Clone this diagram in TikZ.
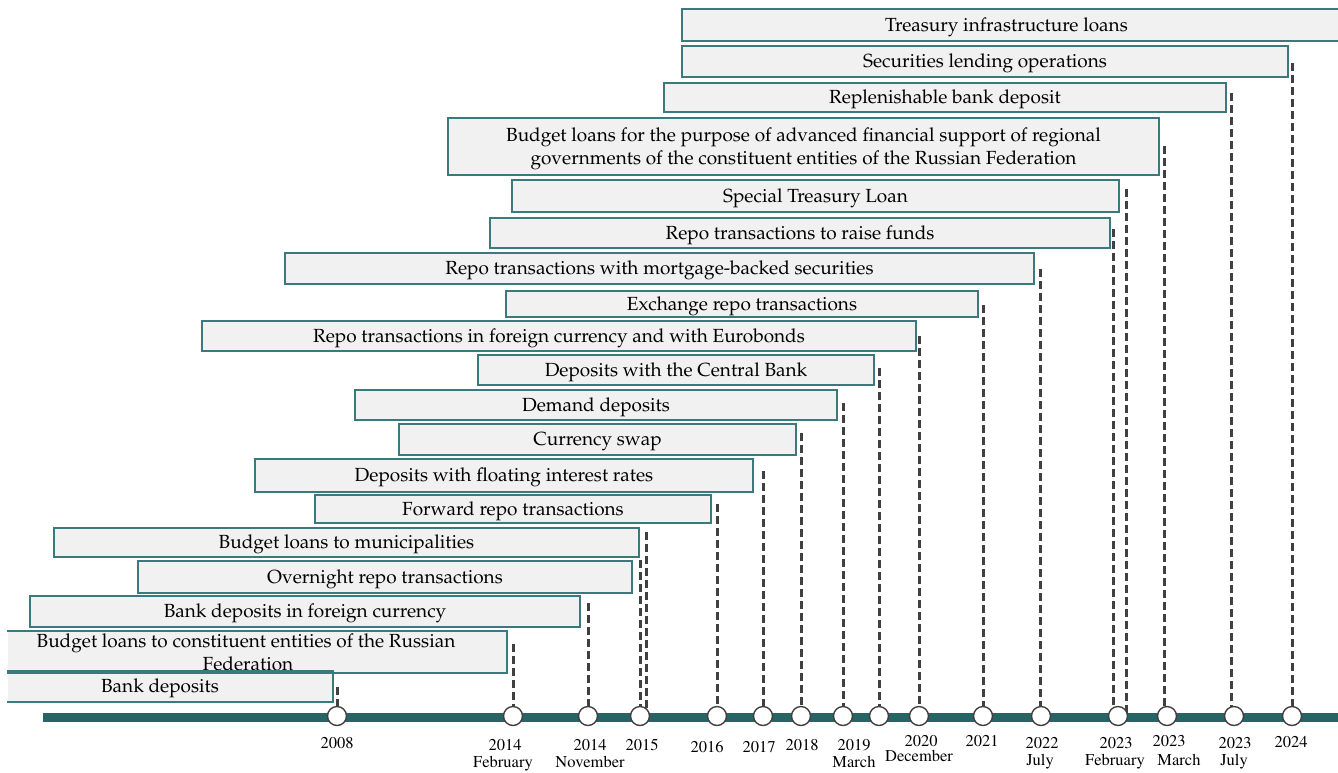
\documentclass[tikz,border=0pt]{standalone}
\usepackage[T1,TU]{fontenc}
\newcommand\palf{\fontencoding{T1}\fontfamily{ppl}\fontsize{19}{23}\selectfont}
\newcommand\timf{\fontencoding{T1}\fontfamily{ptm}\fontsize{16.5}{19}\selectfont}
\definecolor{boxline}{RGB}{58,122,125}
\definecolor{boxfill}{RGB}{241,241,241}
\definecolor{tlcol}{RGB}{38,100,102}
\definecolor{dashcol}{RGB}{64,64,64}
\tikzset{
  box/.style={draw=boxline, fill=boxfill, line width=1.6pt, inner sep=0pt, align=center, font=\palf, text height=14pt, text depth=1.4pt},
  openbox/.style={box, draw=none},
  dot/.style={circle, draw=dashcol, fill=white, line width=1.4pt, minimum size=19pt, inner sep=0pt},
  lab/.style={font=\timf, anchor=base, inner sep=0pt},
  dline/.style={draw=dashcol, line width=3pt, dash pattern=on 8pt off 4pt},
  tline/.style={draw=tlcol, line width=9pt},
  bline/.style={draw=boxline, line width=1.6pt}
}
\newcommand\bx[7][]{\node[box, minimum width={#5-(#3)}, minimum height={#6-(#4)}, #1] (#2) at ({(#3+#5)/2},{(#4+#6)/2}) {#7};}
\begin{document}
\begin{tikzpicture}[x=1pt,y=-1pt]
\useasboundingbox (0,0) rectangle (1338,772);
% boxes
\bx{b1}{682}{9}{1345}{41}{\hspace*{-14pt}Treasury infrastructure loans}
\bx{b2}{682}{46}{1288}{77}{Securities lending operations}
\bx{b3}{664}{83}{1226}{112}{Replenishable bank deposit}
\bx[text height={}, text depth=1.3pt]{b4}{448}{118}{1159}{175}{Budget loans for the purpose of advanced financial support of regional\\governments of the constituent entities of the Russian Federation}
\bx{b5}{512}{180}{1119}{212}{Special Treasury Loan}
\bx{b6}{490}{218}{1110}{248}{Repo transactions to raise funds}
\bx{b7}{285}{253}{1034}{284}{Repo transactions with mortgage-backed securities}
\bx{b8}{506}{291}{978}{317}{Exchange repo transactions}
\bx{b9}{202}{321}{916}{351}{Repo transactions in foreign currency and with Eurobonds}
\bx{b10}{478}{355}{874}{385}{Deposits with the Central Bank}
\bx{b11}{355}{390}{837}{420}{Demand deposits}
\bx{b12}{399}{424}{796}{455}{Currency swap}
\bx{b13}{255}{459}{753}{492}{Deposits with floating interest rates}
\bx{b14}{315}{495}{711}{523}{Forward repo transactions}
\bx{b15}{54}{528}{639}{557}{Budget loans to municipalities}
\bx{b16}{138}{561}{632}{593}{Overnight repo transactions}
\bx{b17}{30}{596}{580}{627}{Bank deposits in foreign currency}
\bx[openbox, text height={}, text depth={}]{b18}{8}{632}{506}{672}{\hspace*{-22pt}Budget loans to constituent entities of the Russian\\\hspace*{-18pt}Federation}
\bx[openbox]{b19}{8}{672}{332}{701}{\hspace*{-20pt}Bank deposits}
\draw[bline] (b18.north west) -- (b18.north east) -- (b18.south east) -- (b18.south west);
\draw[bline] (b19.north west) -- (b19.north east) -- (b19.south east) -- (b19.south west);
% timeline
\coordinate (tS) at (43,717);
\coordinate (tE) at (1345,717);
% circle positions
\foreach \n/\x in {c1/337,c2/513,c3/588,c4/640,c5/717,c6/763,c7/801,c8/843,c9/879,c10/919,c11/983,c12/1041,c13/1118,c14/1167,c15/1234,c16/1292}
  \coordinate (p\n) at (\x,716);
% dashed connectors
\foreach \d/\x/\y/\c in {d1/337/687/c1,d2/513/644/c2,d3/588/603/c3,d4a/640/560/c4,d4b/646/532/c4,d5/717/504/c5,d6/763/471/c6,d7/801/433/c7,d8/843/403/c8,d9/879/368/c9,d10/919/336/c10,d11/983/305/c11,d12/1040/269/c12,d13a/1113/229/c13,d13b/1126/189/c13,d14/1164/146/c14,d15/1231/93/c15,d16/1292/63/c16}
{
  \coordinate (\d) at (\x,\y);
  \draw[dline] (\d) -- (\d |- p\c);
}
\draw[tline] (tS) -- (tE);
\foreach \n in {c1,c2,c3,c4,c5,c6,c7,c8,c9,c10,c11,c12,c13,c14,c15,c16}
  \node[dot] (\n) at (p\n) {};
% labels
\node[lab] (y1) at (337,748) {2008};
\node[lab] (y2) at (505,750) {2014};
\node[lab] (m2) at (503,767) {February};
\node[lab] (y3) at (590,750) {2014};
\node[lab] (m3) at (590,767) {November};
\node[lab] (y4) at (642,750) {2015};
\node[lab] (y5) at (707,752) {2016};
\node[lab] (y6) at (759,752) {2017};
\node[lab] (y7) at (802,750) {2018};
\node[lab] (y8) at (854,750) {2019};
\node[lab] (m8) at (854,767) {March};
\node[lab] (y9) at (921,746) {2020};
\node[lab] (m9) at (919,761) {December};
\node[lab] (y10) at (982,746) {2021};
\node[lab] (y11) at (1042,748) {2022};
\node[lab] (m11) at (1040,765) {July};
\node[lab] (y12) at (1116,748) {2023};
\node[lab] (m12) at (1115,765) {February};
\node[lab] (y13) at (1169,746) {2023};
\node[lab] (m13) at (1179,765) {March};
\node[lab] (y14) at (1235,748) {2023};
\node[lab] (m14) at (1234,765) {July};
\node[lab] (y15) at (1291,747) {2024};
\end{tikzpicture}
\end{document}
